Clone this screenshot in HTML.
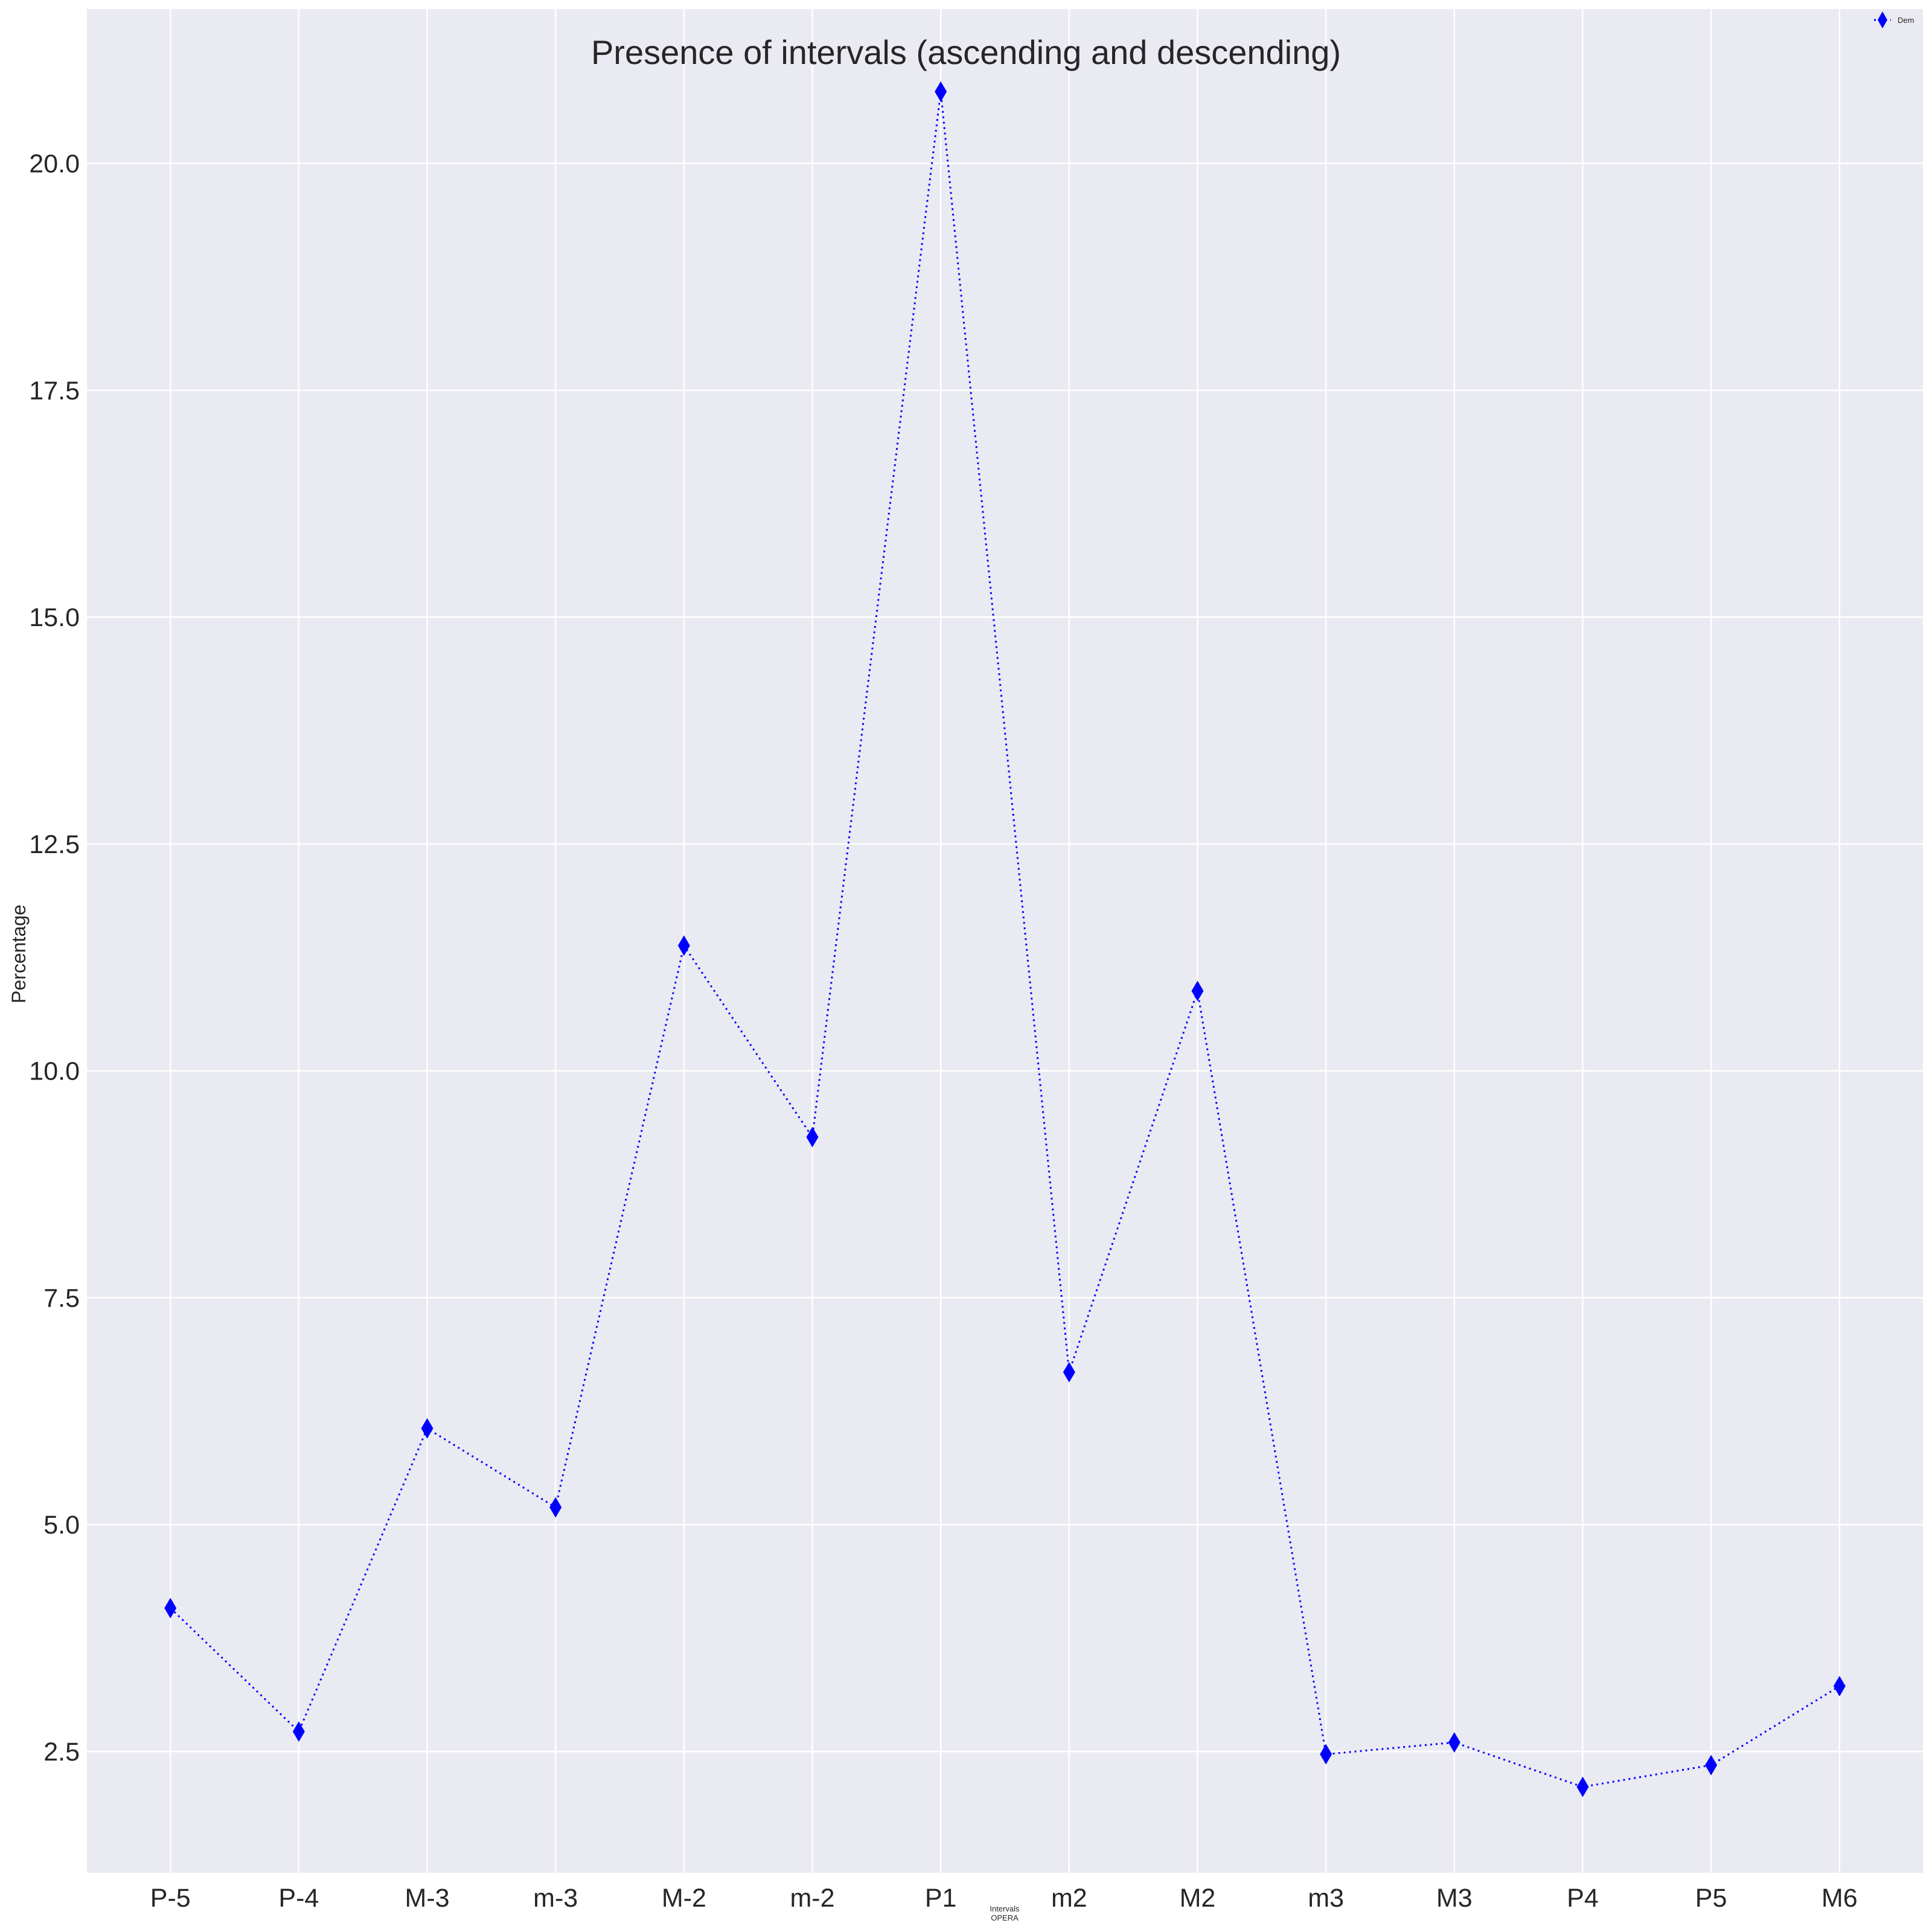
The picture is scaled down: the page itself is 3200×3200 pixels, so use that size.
<!DOCTYPE html>
<html><head><meta charset="utf-8"><style>
html,body{margin:0;padding:0;background:#fff;}
svg{display:block;font-family:"Liberation Sans",sans-serif;}
</style></head><body>
<svg id="chart" width="3200" height="3200" viewBox="0 0 3200 3200">
<rect x="0" y="0" width="3200" height="3200" fill="#fff"/>
<rect x="144" y="15" width="3041" height="3087" fill="#eaeaf2"/>
<g id="grid"></g>
<g id="ticks"></g>
<g id="series"></g>
<text x="1600" y="106" text-anchor="middle" font-size="56" fill="#262626">Presence of intervals (ascending and descending)</text>
<text transform="translate(42,1580) rotate(-90)" text-anchor="middle" font-size="32" fill="#262626">Percentage</text>
<text x="1664" y="3166" text-anchor="middle" font-size="13" fill="#262626">Intervals</text>
<text x="1664" y="3181" text-anchor="middle" font-size="13" fill="#262626">OPERA</text>
<g>
<line x1="3104" y1="33" x2="3132" y2="33" stroke="#0000ff" stroke-width="3" stroke-dasharray="3,6"/>
<polygon points="3118,19 3126,33 3118,47 3110,33" fill="#0000ff"/>
<text x="3143" y="38" font-size="13" fill="#262626">Dem</text>
</g>
</svg>
<script>
const categories = ["P-5","P-4","M-3","m-3","M-2","m-2","P1","m2","M2","m3","M3","P4","P5","M6"];
const values = [4.08,2.72,6.06,5.19,11.38,9.27,20.79,6.68,10.88,2.47,2.60,2.11,2.35,3.22];
const yTicks = [2.5,5.0,7.5,10.0,12.5,15.0,17.5,20.0];
const yTickLabels = ["2.5","5.0","7.5","10.0","12.5","15.0","17.5","20.0"];

const NS="http://www.w3.org/2000/svg";
const L=144,R=3185,T=15,B=3102;
const yMin=1.163,yMax=21.70;
function xScale(i){const n=categories.length-1;const pad=n*0.05;return L+(i+pad)/(n+2*pad)*(R-L);}
function yScale(v){return B-(v-yMin)/(yMax-yMin)*(B-T);}
function mk(tag,attrs,parent){const e=document.createElementNS(NS,tag);for(const k in attrs)e.setAttribute(k,attrs[k]);parent.appendChild(e);return e;}
const grid=document.getElementById('grid'),ticks=document.getElementById('ticks'),series=document.getElementById('series');
yTicks.forEach((v,i)=>{
  const y=yScale(v);
  const g=mk('line',{x1:L,x2:R,y1:y,y2:y,stroke:'#fff','stroke-width':2.5},grid);
  
  
  const t=mk('text',{x:L-12,y:y+15,'text-anchor':'end','font-size':43,fill:'#262626'},ticks);
  t.textContent=yTickLabels[i];
  
  
});
categories.forEach((c,i)=>{
  const x=xScale(i);
  const g=mk('line',{x1:x,x2:x,y1:T,y2:B,stroke:'#fff','stroke-width':2.5},grid);
  
  
  const t=mk('text',{x:x,y:3158,'text-anchor':'middle','font-size':43,fill:'#262626'},ticks);
  t.textContent=c;
  
  
});
const pts=values.map((v,i)=>xScale(i)+','+yScale(v)).join(' ');
const line=mk('polyline',{points:pts,fill:'none',stroke:'#0000ff','stroke-width':3,'stroke-dasharray':'3,6'},series);


values.forEach((v,i)=>{
  const x=xScale(i),y=yScale(v);
  const p=mk('polygon',{points:`${x},${y-17} ${x+10},${y} ${x},${y+17} ${x-10},${y}`,fill:'#0000ff'},series);
  
  
});
</script>
</body></html>
